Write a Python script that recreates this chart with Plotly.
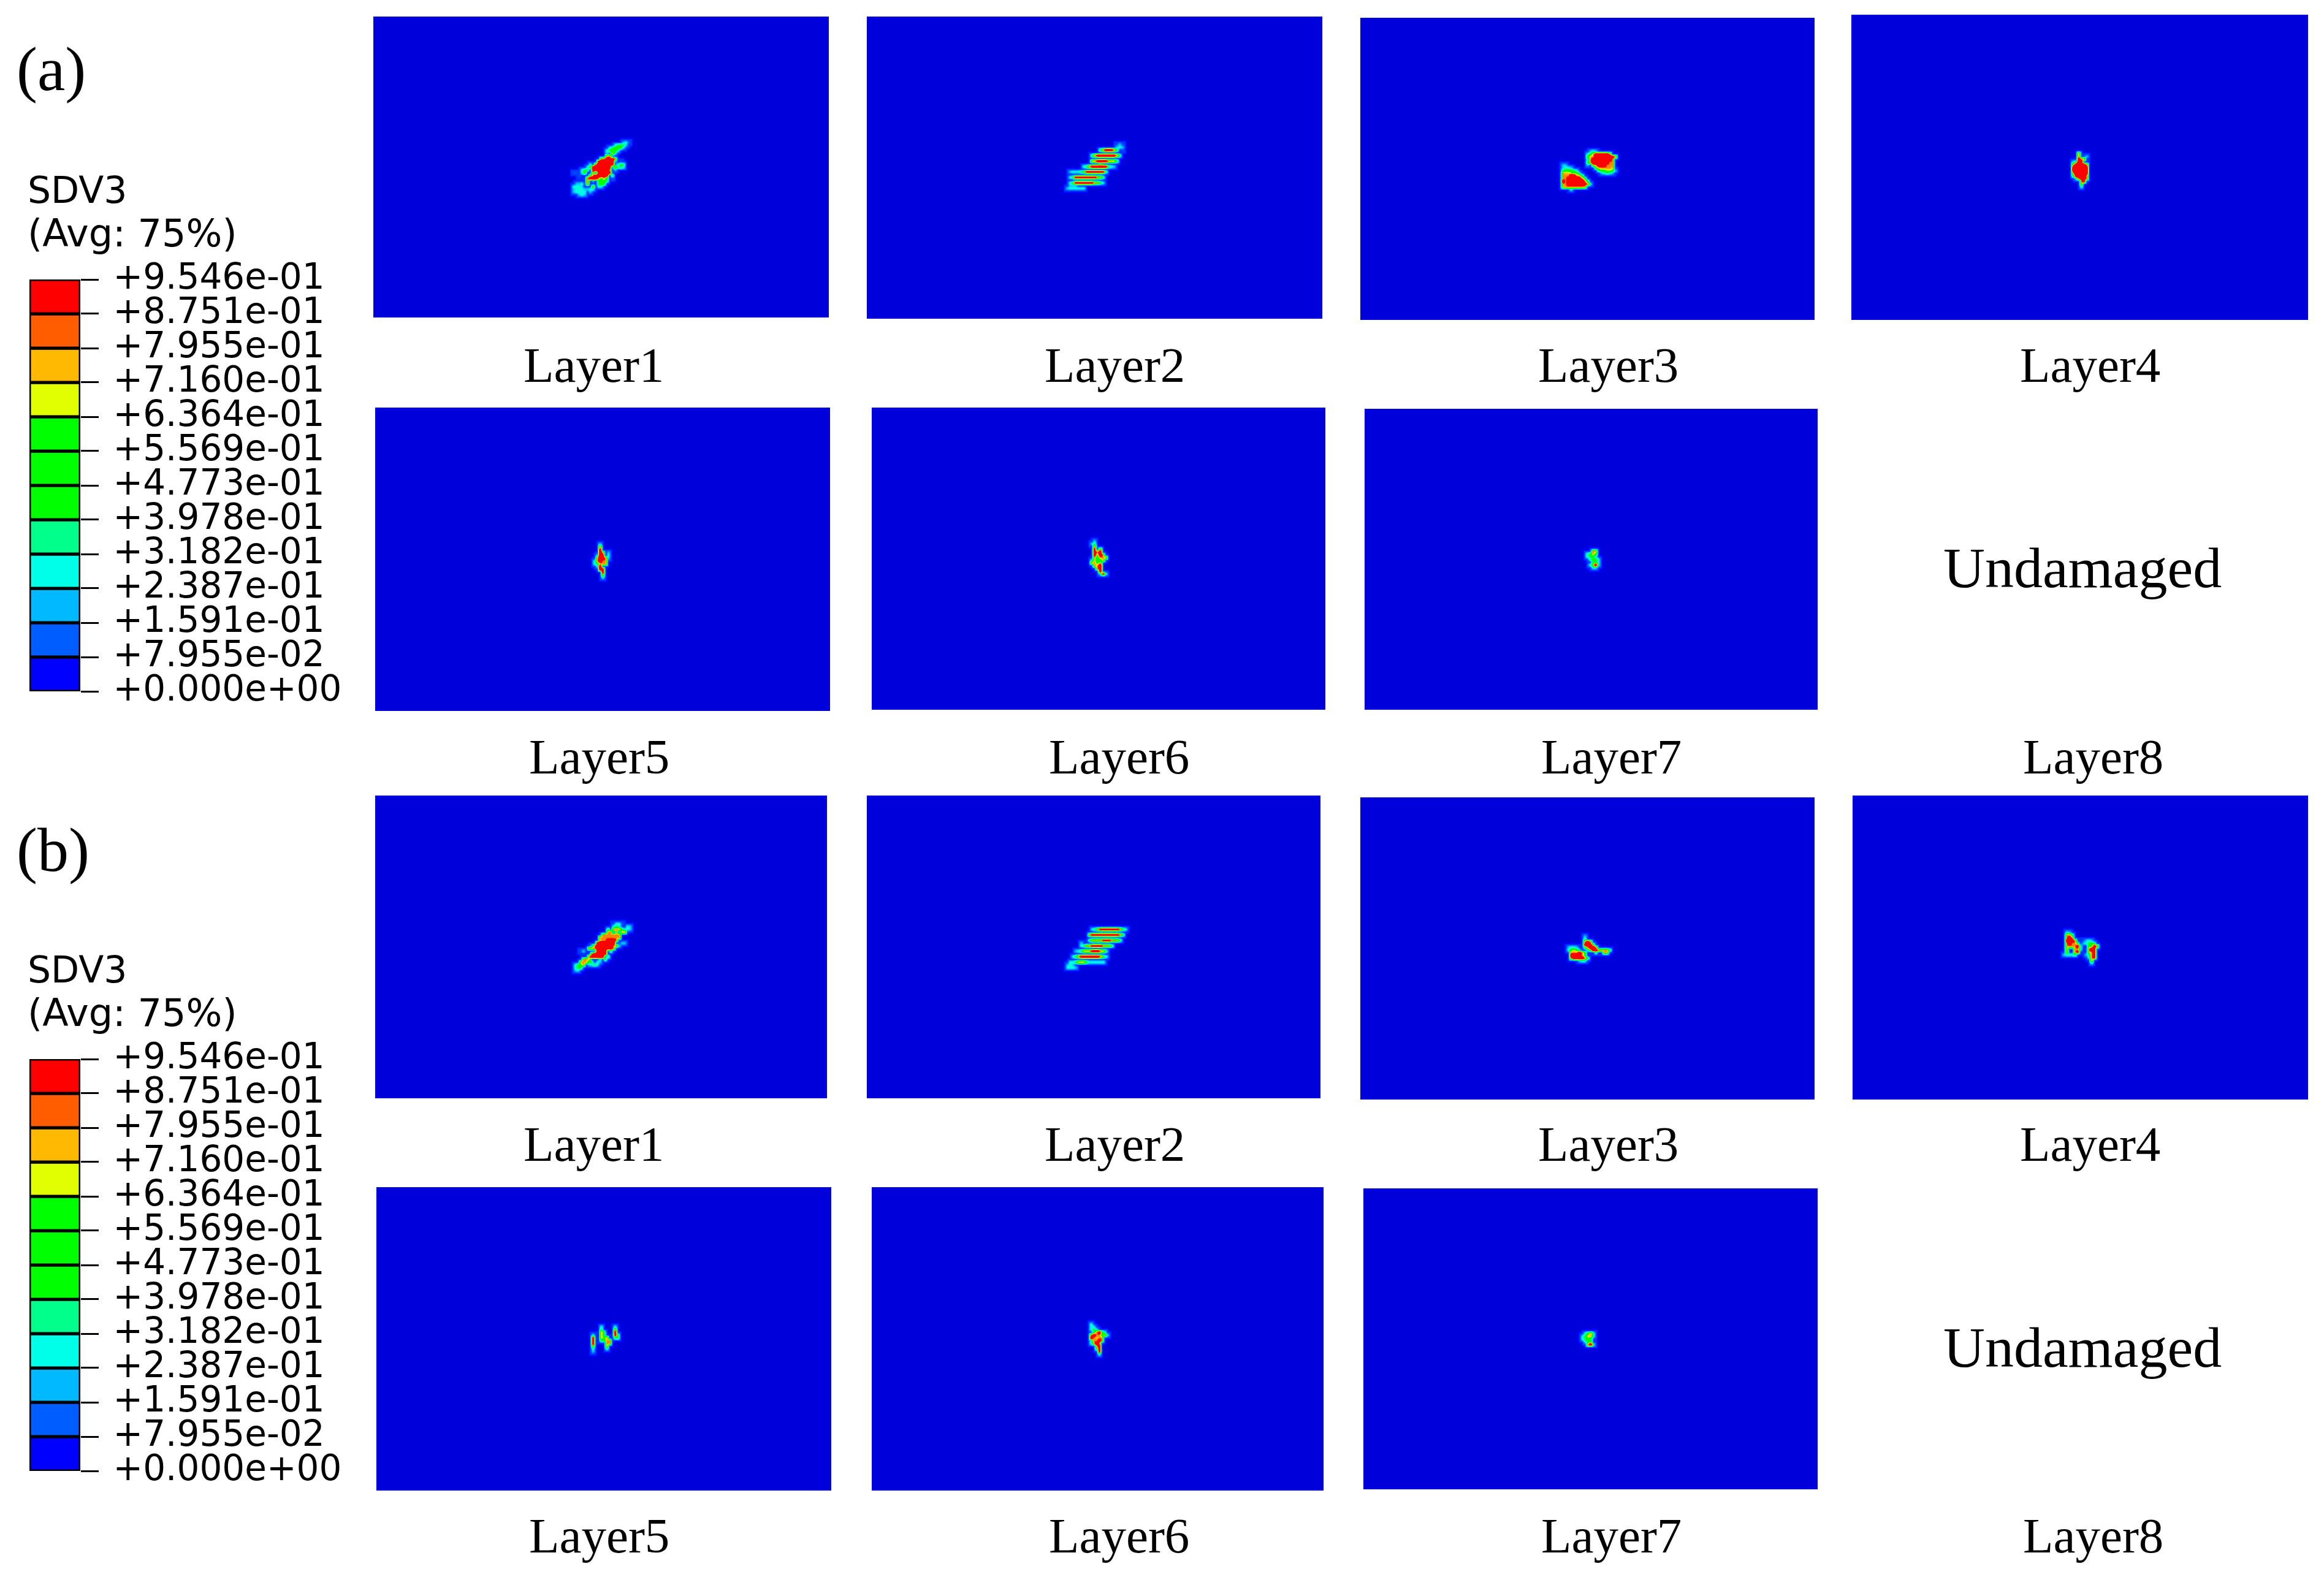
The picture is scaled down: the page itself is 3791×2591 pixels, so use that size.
import numpy as np
import plotly.graph_objects as go

# -----------------------------------------------------
# LEGEND DATA
# -----------------------------------------------------

LEVELS = [0.0, 0.07955, 0.1591, 0.2387, 0.3182, 0.3978, 0.4773,
          0.5569, 0.6364, 0.7160, 0.7955, 0.8751, 0.9546]

LEVEL_LABELS = ["+0.000e+00", "+7.955e-02", "+1.591e-01", "+2.387e-01",
                "+3.182e-01", "+3.978e-01", "+4.773e-01", "+5.569e-01",
                "+6.364e-01", "+7.160e-01", "+7.955e-01", "+8.751e-01",
                "+9.546e-01"]

BAND_COLORS = ["#0000FF", "#005DFF", "#00B9FF", "#00FFE8", "#00FF8B", "#00FF00",
               "#00FF00", "#00FF00", "#E2FF00", "#FFB900", "#FF5D00", "#FF0000"]

# value of each digit used in the damage maps below
# 9 is above the scale so that the red cores stay as wide as in the picture
CELL_VALUES = [0.0, 0.106, 0.22, 0.29, 0.42, 0.53, 0.64, 0.74, 0.80, 1.25]

# faint rim that the picture shows around every damaged cell
RIM_VALUE = 0.08

# -----------------------------------------------------
# DAMAGE MAPS ('.' is undamaged)
# -----------------------------------------------------

A1 = ["...................231",
      "................34442",
      "..............345552",
      ".............34553",
      ".............2.73",
      ".............78",
      "...........889998",
      "..........9999992.1",
      ".......3.8999999.344",
      "......349999999.8343",
      "....344.9999998.2",
      ".11.35..8.99999",
      "...1...5899999.4",
      "......89998584.1",
      "......8.2.4554",
      "..223.8...455",
      ".3332...8.33",
      ".23332233",
      ".23333.2",
      "...232"]

A2 = ["..................121",
      "..................232",
      "............4899984.1",
      "",
      ".........48999999984",
      "",
      ".........7899998874",
      "............3",
      "......348999999432",
      "",
      ".23334599999994",
      "",
      ".3499999999874",
      "",
      ".3499999997843",
      ".222",
      "2333333"]

A3 = ["...........232",
      "..........347999998",
      "..........57899999998",
      "..........3899999998",
      "..........4899999988",
      ".22.......2.78999888",
      ".2332........5788887",
      ".455543.......4556652",
      ".8776553.......23432",
      ".88899874",
      ".889999985",
      ".9899999984",
      ".88999999983",
      ".788888887",
      "....3"]

A4 = ["..8",
      "..8.12",
      "..988",
      "3499",
      "799998",
      "999999",
      "999999",
      "899999",
      "499998",
      ".38998",
      "...89",
      "...8",
      "...3"]

A5 = ["..3",
      "..8",
      "..9",
      "..97.2",
      ".399.3",
      ".79982",
      "38988",
      "34788",
      ".39",
      "..99",
      "...9",
      "...8",
      "...3"]

A6 = ["..2",
      ".24",
      "..8",
      "..9.8",
      "..989",
      "..9598",
      "..84887",
      ".37448",
      ".7857",
      "..879",
      "...89",
      "....9",
      "....393"]

A7 = ["..88",
      "3485",
      "3443",
      ".3543",
      "..443",
      ".3593",
      "..33"]

B1 = ["...............1331",
      "...............3431.32",
      ".............4.8884332",
      ".............88.8.88",
      "...........8888888",
      "..........88888888",
      "..........7889998",
      ".........9999999.122",
      ".......38999999872",
      "......7789999998",
      "...12....9999.4",
      ".......899999",
      "......899999.4",
      "....887...3.5",
      "...88744.32",
      ".3458.2343",
      ".345",
      ".23"]

B2 = ["",
      "..........3489999999843",
      "",
      ".........8999999999984",
      "",
      ".........478889998874",
      "......2",
      "......348899998874",
      "",
      "....234888999883",
      "",
      "...3489999999843",
      "",
      "..3348874333333",
      ".232",
      ".3332"]

B3 = [".......2",
      ".......4",
      ".......897",
      ".......9995",
      ".2332..48998",
      ".35753..359987884",
      "..888985...4..87",
      "..999985",
      "..8999984",
      ".....233"]

B4 = [".32",
      ".884",
      ".898",
      ".9998..1232",
      ".89884.23454",
      ".888893..5597",
      ".8..873..899",
      ".8..89...789",
      "23334...2389",
      ".........389",
      "..........8",
      "..........3"]

B5 = ["....3....3",
      "....4....8",
      "....84...9",
      ".3..74...94",
      ".9..758..44",
      ".9..4488",
      ".9....88",
      ".8....8",
      ".3....3",
      ".2"]

B6 = [".3",
      ".33",
      ".343",
      "..48953",
      ".8988573",
      ".98788",
      ".38898",
      ".3798",
      "...79",
      "...49",
      "....9",
      "....3"]

B7 = [".3583",
      "34773",
      "3454",
      ".345",
      "..893"]

# -----------------------------------------------------
# PAGE LAYOUT, in pixels of the page
# -----------------------------------------------------

W = 3791
H = 2591
CELL = 4.5

# the page's body margin moves the whole plot by this much
BODY = 8

# x0, x1, y0, y1, map, left and top of the map
PANELS = [
    (609, 1352, 27, 518, A1, 930, 230),
    (1414, 2157, 27, 520, A2, 1738, 235),
    (2219, 2960, 29, 522, A3, 2543, 243),
    (3020, 3765, 24, 522, A4, 3380, 247),
    (612, 1354, 665, 1160, A5, 966, 885),
    (1422, 2162, 665, 1158, A6, 1775, 881),
    (2226, 2965, 667, 1158, A7, 2585, 898),
    (612, 1349, 1298, 1792, B1, 930, 1505),
    (1414, 2154, 1298, 1792, B2, 1735, 1510),
    (2219, 2960, 1301, 1794, B3, 2553, 1527),
    (3022, 3765, 1298, 1794, B4, 3365, 1520),
    (614, 1356, 1937, 2432, B5, 960, 2163),
    (1422, 2159, 1937, 2432, B6, 1775, 2159),
    (2224, 2965, 1939, 2430, B7, 2579, 2173),
]

LABELS = [
    ("Layer1", 968, 596), ("Layer2", 1818, 596), ("Layer3", 2623, 596), ("Layer4", 3409, 596),
    ("Layer5", 977, 1235), ("Layer6", 1825, 1235), ("Layer7", 2628, 1235), ("Layer8", 3414, 1235),
    ("Layer1", 968, 1867), ("Layer2", 1818, 1867), ("Layer3", 2623, 1867), ("Layer4", 3409, 1867),
    ("Layer5", 977, 2506), ("Layer6", 1825, 2506), ("Layer7", 2628, 2506), ("Layer8", 3414, 2506),
]

# -----------------------------------------------------
# PANEL HEATMAPS
# -----------------------------------------------------

colorscale = [[0, "#0000DA"]]
for i, color in enumerate(BAND_COLORS):
    colorscale.append([(i + 0.5) / 12, color])
colorscale.append([1, "#FF0000"])

fig = go.Figure()

for x0, x1, y0, y1, rows, left, top in PANELS:

    nx = int(round((x1 - x0) / CELL))
    ny = int(round((y1 - y0) / CELL))
    z = np.zeros((ny, nx))

    col0 = int(round((left - x0) / CELL))
    row0 = int(round((top - y0) / CELL))

    for r, row in enumerate(rows):
        for c, ch in enumerate(row):
            if ch != ".":
                for rr in (-1, 0, 1):
                    for cc in (-1, 0, 1):
                        j = row0 + r + rr
                        i = col0 + c + cc
                        z[j, i] = max(z[j, i], RIM_VALUE)

    for r, row in enumerate(rows):
        for c, ch in enumerate(row):
            if ch != ".":
                z[row0 + r, col0 + c] = CELL_VALUES[int(ch)]

    dx = (x1 - x0) / nx
    dy = (y1 - y0) / ny

    fig.add_trace(
        go.Heatmap(
            z=z,
            x0=x0 + dx / 2,
            dx=dx,
            y0=y0 + dy / 2,
            dy=dy,
            zmin=0,
            zmax=LEVELS[-1],
            zsmooth="best",
            colorscale=colorscale,
            showscale=False,
            hoverinfo="skip"
        )
    )

# -----------------------------------------------------
# LEGENDS
# -----------------------------------------------------

def add_legend(n, top, bottom):

    fig.add_trace(
        go.Bar(
            x=[0] * 12,
            y=np.diff(LEVELS),
            base=LEVELS[:-1],
            width=1,
            marker=dict(color=BAND_COLORS, line=dict(color="black", width=5)),
            cliponaxis=False,
            xaxis=f"x{n}",
            yaxis=f"y{n}",
            hoverinfo="skip"
        )
    )

    fig.update_layout({
        f"xaxis{n}": dict(
            domain=[(48 - BODY) / W, (131 - BODY) / W],
            range=[-0.5, 0.5],
            visible=False,
            automargin=False,
            anchor=f"y{n}"
        ),
        f"yaxis{n}": dict(
            domain=[1 - (bottom - BODY) / H, 1 - (top - BODY) / H],
            range=[LEVELS[0], LEVELS[-1]],
            anchor=f"x{n}",
            side="right",
            automargin=False,
            showgrid=False,
            zeroline=False,
            ticks="outside",
            ticklen=29,
            tickwidth=3,
            tickcolor="black",
            tickvals=LEVELS,
            ticktext=LEVEL_LABELS,
            tickfont=dict(family="DejaVu Sans", size=58, color="black"),
            ticklabelstandoff=12,
            ticklabelshift=-5
        )
    })


add_legend(2, 456, 1128)
add_legend(3, 1728, 2400)

# -----------------------------------------------------
# TEXT
# -----------------------------------------------------

def add_text(text, x, y, family, size, xanchor="center"):

    fig.add_annotation(
        x=x,
        y=y,
        xref="x",
        yref="y",
        text=text,
        showarrow=False,
        xanchor=xanchor,
        yanchor="middle",
        font=dict(family=family, size=size, color="black")
    )


for text, x, y in LABELS:
    add_text(text, x, y, "Liberation Serif", 81)

add_text("Undamaged", 3397, 926, "Liberation Serif", 94)
add_text("Undamaged", 3397, 2198, "Liberation Serif", 94)

add_text("(a)", 25, 112, "Liberation Serif", 102, "left")
add_text("(b)", 25, 1386, "Liberation Serif", 102, "left")

add_text("SDV3", 43, 310, "DejaVu Sans", 60, "left")
add_text("(Avg: 75%)", 43, 380, "DejaVu Sans", 62, "left")
add_text("SDV3", 43, 1582, "DejaVu Sans", 60, "left")
add_text("(Avg: 75%)", 43, 1652, "DejaVu Sans", 62, "left")

# -----------------------------------------------------
# FIGURE
# -----------------------------------------------------

fig.update_layout(
    width=W,
    height=H,
    margin=dict(l=0, r=0, t=0, b=0),
    paper_bgcolor="white",
    plot_bgcolor="white",
    showlegend=False,
    xaxis=dict(range=[BODY, W + BODY], domain=[0, 1], visible=False, automargin=False),
    yaxis=dict(range=[H + BODY, BODY], domain=[0, 1], visible=False, automargin=False)
)

fig.write_html("out.html")
